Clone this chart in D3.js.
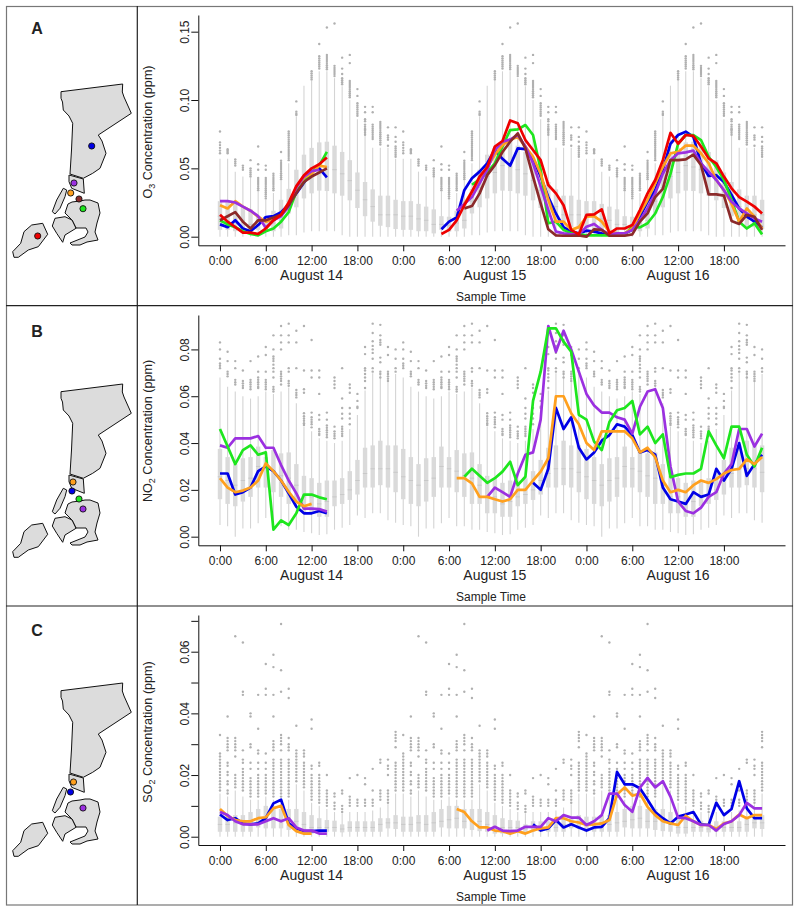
<!DOCTYPE html>
<html><head><meta charset="utf-8">
<script src="https://cdn.jsdelivr.net/npm/d3@7/dist/d3.min.js"></script>
<style>html,body{margin:0;background:#fff}svg{display:block}text{font-family:"Liberation Sans",Arial,sans-serif;fill:#222}</style>
</head><body><div id="c"></div>
<script>
// ---------- Hourly box statistics (one entry per hour of day, repeated each of the 3 days)
const o3Lo=[0,0,0,0,0,0,0,0,0,.001,.001,.003,.004,.004,.004,.004,.001,0,0,0,0,0,0,0];
const o3Q1=[.005,.005,.004,.004,.0024,.005,.0037,.004,.006,.017,.0215,.028,.0317,.0337,.0334,.0317,.030,.0266,.021,.015,.011,.008,.007,.0056];
const o3Med=[.015,.015,.013,.012,.009,.009,.008,.010,.012,.026,.036,.044,.047,.052,.051,.049,.046,.041,.034,.027,.022,.016,.016,.016];
const o3Q3=[.026,.026,.024,.022,.020,.015,.0146,.019,.027,.035,.049,.06,.065,.069,.0695,.0666,.062,.056,.047,.040,.0346,.030,.030,.027];
const o3Hi=[.057,.057,.0476,.044,.043,.033,.027,.032,.041,.0537,.088,.1105,.114,.121,.121,.116,.110,.100,.086,.077,.065,.065,.065,.057];
const o3Out=[
[.077,.069,.067,.065,.063,.061],[.064,.063,.062,.061],[.0566,.055,.0535,.052],[.052,.0505,.049],
[.056,.05,.0485,.047,.0455,.044],[.066,.053,.049,.043,.0415,.040,.0385,.037,.0355,.034],[.052,.049,.043,.0415,.040,.0385,.037,.0355,.034,.0325,.031,.0295,.028],[.046,.0445,.043,.0415,.040,.0385,.037,.0355,.034],
[.062,.0556,.054,.0525,.051,.0495,.048,.0465,.045,.0435,.042],[.077,.0755,.074,.0725,.071,.0695,.068,.0665,.065,.0635,.062,.0605,.059,.0575,.056],[.099,.0915,.090,.089],[],
[.121,.1195,.118,.1165,.115],[.141,.132,.1305,.129,.1275,.126,.1245,.123],[.153,.133,.1315,.13,.1285,.127,.1255,.124,.1225],[.156,.125,.1235,.122,.1205,.119,.1175],
[.131,.123,.119,.116,.1145,.113,.1115],[.133,.127,.114,.1125,.111,.1095,.108,.1065,.105,.1035,.102],[.108,.103,.0976,.096,.0945,.093,.0915,.090,.0885],[.095,.091,.086,.0845,.082,.0805,.079,.0775,.076,.0745,.0785],
[.095,.091,.082,.0805,.079,.0775,.076,.0745,.073,.0715],[.084,.0825,.081,.0795,.078,.0765,.075,.0735,.072,.0705,.069,.0675],[.080,.074,.0725,.071,.0665],[.080,.073,.0695,.066,.0645,.063,.0615,.060,.0585]];

const no2Lo=[.005,.0045,0,.0035,.0035,.0057,.008,.0045,.0045,.003,.003,.002,.0015,.0007,.001,.003,.0038,.005,.009,.008,.01,.01,.007,.006];
const no2Q1=[.016,.014,.013,.015,.017,.021,.021,.019,.017,.014,.014,.010,.010,.0085,.0085,.013,.014,.0157,.018,.021,.021,.022,.021,.019];
const no2Med=[.0256,.024,.022,.024,.025,.03,.029,.028,.026,.025,.022,.017,.017,.014,.015,.017,.018,.02,.024,.027,.029,.029,.029,.0275];
const no2Q3=[.0375,.034,.031,.0335,.034,.0385,.034,.037,.0356,.036,.031,.026,.025,.023,.024,.024,.025,.028,.0328,.038,.039,.041,.039,.039];
const no2Hi=[.068,.064,.062,.060,.059,.06,.062,.061,.062,.0637,.057,.047,.045,.042,.041,.04,.041,.046,.052,.0624,.0698,.07,.066,.0695];
const no2Out=[
[.083,.080,.076,.074,.073,.072],[.079,.075,.0705,.0695,.0685],[.075,.072,.067,.066,.065],[.071,.0665,.0655,.0645,.0635],
[.075,.067,.066,.065,.064,.063],[.077,.0705,.068,.067,.066,.065,.064,.0635],[.081,.0776,.0705,.067,.066,.065,.064,.063],[.086,.080,.077,.076,.075,.0735,.072,.0705,.068,.064,.063,.062],
[.090,.086,.083,.080,.0705,.0695,.0685,.0675,.0665,.065],[.091,.086,.083,.072,.0705,.0665,.0655,.0645],[.088,.083,.072,.0627,.0615,.0605,.0595],[.090,.071,.063,.0615,.0527,.0515,.0505,.0495,.0485,.0477],
[.084,.071,.068,.053,.051,.050,.049,.048,.0467],[.071,.068,.061,.052,.050,.046,.045,.044,.0434],[.053,.050,.0475,.0465,.0455,.0445,.0435,.0425],[.068,.0665,.065,.0635,.047,.045,.044,.043,.042],
[.072,.059,.055,.0525,.0505,.047,.046,.045,.044,.043],[.065,.0635,.0615,.055,.0525,.0505,.048],[.061,.058,.0555,.055],[.081,.078,.072,.071,.0695,.068,.0665,.0635],
[.091,.087,.0835,.0815,.080,.0785,.076,.072,.0705],[.0905,.086,.084,.083,.082,.0765,.0745,.0705,.0695,.068],[.081,.0776,.0705,.0695,.0685,.0675,.0665],[.080,.076,.072,.0705]];

const so2Lo=[0,0,0,0,0,0,0,0,0,0,0,0,0,0,0,0,0,0,0,0,0,0,0,0];
const so2Q1=[.0016,.0016,.0016,.0016,.0016,.003,.0027,.0027,.0027,.0022,.0018,.0016,.001,.001,.0016,.0016,.0014,.0016,.0016,.0016,.0016,.0016,.0027,.0025];
const so2Med=[.004,.004,.0045,.004,.0045,.005,.0055,.006,.005,.005,.005,.004,.003,.003,.003,.003,.0025,.003,.003,.003,.003,.004,.0045,.0045];
const so2Q3=[.0065,.0065,.007,.007,.008,.009,.010,.010,.009,.009,.009,.008,.007,.006,.0054,.0052,.004,.005,.005,.005,.005,.006,.006,.007];
const so2Hi=[.014,.013,.015,.013,.012,.012,.013,.012,.012,.012,.017,.015,.011,.010,.009,.008,.0075,.008,.008,.008,.0085,.0095,.0105,.014];
const so2Out=[
[.033,.027,.026,.025,.024,.023,.022,.021,.020,.019,.018,.017,.016,.015],[.039,.032,.031,.030,.029,.028,.024,.023,.021,.020,.018,.017,.015,.014],[.065,.032,.031,.030,.029,.028,.026,.020,.019,.018,.017,.016],[.063,.047,.046,.028,.025,.024,.022,.021,.020,.019,.018,.017,.016,.015],
[.040,.039,.030,.029,.024,.022,.019,.018,.017,.016,.015,.014,.013],[.046,.035,.028,.027,.024,.022,.020,.019,.018,.017,.016,.015,.014,.013],[.056,.048,.046,.027,.024,.022,.020,.019,.018,.017,.016,.015,.014],[.059,.055,.046,.039,.031,.030,.029,.028,.025,.024,.023,.022,.021,.020,.019,.018,.017,.016,.015,.014,.013],
[.069,.054,.047,.033,.032,.031,.030,.028,.025,.024,.023,.022,.021,.020,.019,.018,.017,.016,.015,.014,.013],[.048,.045,.032,.030,.029,.028,.025,.024,.023,.022,.021,.020,.019,.018,.017,.016,.015,.014,.013],[.036,.028,.027,.026,.025,.024,.023,.022,.021,.020,.019,.018],[.028,.027,.026,.024,.023,.022,.021,.020,.019,.018,.017,.016],
[.038,.035,.023,.022,.020,.019,.018,.017,.016,.015,.014,.013,.012],[.024,.023,.020,.019,.018,.017,.016,.015,.014,.013,.012,.011],[.020,.015,.014,.013,.012,.011,.010],[.014,.013,.011,.010,.009],
[.015,.014,.010,.009,.008],[.019,.013,.012,.011,.010],[.020,.012,.011,.010],[.019,.017,.012,.011,.010],
[.022,.015,.012,.011,.010],[.025,.024,.015,.014,.013,.012],[.025,.023,.022,.020,.015,.014,.013,.012,.011],[.034,.033,.032,.031,.029,.024,.023,.022,.021,.020,.019,.018,.017,.016,.015]];

// ---------- Site series. *A runs from hour 0, *B ends at hour 71 (hours count from 0:00 August 14)
const o3BlueA=[.009,.007,.012,.006,.004,.0085,.0144,.015,.018,.0235,.0317,.0395,.0475,.05,.0434];
const o3BlueB=[.0054,.011,.014,.034,.0427,.0476,.0537,.0634,.057,.052,.0646,.064,.057,.044,.029,.017,.007,.0037,.0024,.0044,.0037,.0024,.0017,.0024,.0024,.005,.0146,.0256,.034,.049,.068,.0744,.0768,.073,.0537,.0444,.045,.040,.0305,.0207,.0146,.011,.0068];
const o3GreenA=[.012,.009,.007,.004,.002,.001,.004,.006,.011,.018,.033,.040,.047,.052,.062];
const o3GreenB=[.038,.042,.047,.0537,.066,.078,.0785,.0817,.0744,.049,.0098,.011,.005,.0024,.002,.001,.001,.001,.001,.001,.0017,.0073,.0068,.0098,.017,.029,.046,.068,.0744,.0744,.0707,.0585,.051,.0415,.0268,.011,.006,.0098,.0017];
const o3OrangeA=[.023,.0207,.026,.022,.019,.0146,.011,.012,.016,.024,.036,.043,.046,.052,.051];
const o3OrangeB=[.024,.033,.041,.051,.06,.067,.071,.073,.066,.0585,.046,.027,.011,.011,.005,.007,.0146,.015,.011,.0037,.0024,.0024,.006,.017,.027,.039,.051,.061,.062,.0666,.0666,.061,.0537,.0415,.034,.024,.011,.0207,.0146,.006];
const o3PurpleA=[.026,.026,.025,.022,.019,.015,.0066,.012,.015,.022,.036,.044,.048,.049];
const o3PurpleB=[.019,.024,.029,.039,.049,.0634,.0695,.071,.0744,.066,.0537,.0366,.0195,.0037,.0024,.0017,.0017,.0073,.0093,.005,.0017,.0024,.0024,.005,.012,.0207,.0317,.046,.056,.061,.0617,.063,.0537,.0476,.0415,.034,.0256,.0207,.017,.0134,.011];
const o3BrownA=[.012,.015,.018,.011,.006,.012,.012,.014,.016,.023,.032,.040,.044,.047,.050];
const o3BrownB=[.0207,.0224,.0317,.045,.0524,.062,.0695,.0756,.0646,.044,.0244,.0054,.001,.0007,.0007,.001,0,.0054,.005,.0007,.0007,.0007,.0017,.011,.017,.029,.035,.056,.056,.0566,.06,.0524,.031,.031,.03,.0115,.0093,.0159,.0146,.005];
const o3RedA=[.016,.011,.007,.003,.003,.002,.006,.012,.016,.025,.037,.045,.050,.053,.058];
const o3RedB=[.002,.005,.012,.023,.033,.044,.051,.066,.07,.085,.083,.0707,.0634,.056,.0378,.0317,.023,.005,.0017,.0159,.0163,.02,.0024,.006,.006,.0085,.0195,.0317,.0415,.056,.076,.068,.0744,.0737,.066,.0573,.0537,.044,.0354,.029,.0256,.022,.017];

const no2BlueA=[.027,.027,.018,.019,.021,.028,.030,.028,.024,.0185,.0128,.01,.01,.011,.01];
const no2BlueB=[.023,.02,.029,.055,.046,.051,.038,.033,.036,.041,.0434,.048,.047,.0434,.036,.037,.035,.021,.016,.015,.014,.019,.017,.018,.029,.024,.029,.04,.026,.031,.035];
const no2GreenA=[.046,.0385,.031,.037,.039,.035,.036,.003,.007,.005,.01,.018,.018,.0168,.016];
const no2GreenB=[.0256,.029,.026,.023,.025,.0278,.032,.022,.0256,.058,.0705,.089,.089,.0833,.079,.052,.05,.0406,.037,.049,.054,.055,.058,.0437,.047,.040,.0437,.0254,.0264,.027,.027,.029,.045,.039,.0335,.047,.047,.035,.03,.038];
const no2OrangeA=[.025,.021,.019,.0197,.021,.024,.0313,.028,.024,.0192,.015,.013,.014];
const no2OrangeB=[.025,.025,.0228,.017,.017,.016,.015,.016,.02,.02,.024,.0278,.0335,.06,.06,.0527,.048,.04,.037,.045,.045,.045,.045,.042,.036,.038,.034,.024,.019,.02,.019,.022,.024,.023,.0246,.027,.0285,.029,.033,.031,.034];
const no2PurpleA=[.039,.038,.042,.042,.042,.043,.038,.038,.0306,.024,.0185,.012,.012,.0118,.0107];
const no2PurpleB=[.017,.021,.019,.017,.027,.035,.036,.05,.09,.079,.088,.08,.0705,.061,.056,.053,.053,.051,.05,.044,.0555,.062,.063,.055,.03,.015,.011,.01,.0124,.017,.019,.027,.031,.046,.046,.0385,.044];

const so2BlueA=[.0072,.0054,.006,.0043,.004,.0043,.006,.0108,.012,.0043,.0027,.0018,.0018,.002,.002];
const so2BlueB=[.004,.002,.0027,.0054,.003,.004,.003,.002,.003,.0032,.006,.021,.017,.017,.0157,.012,.008,.006,.0043,.0065,.0072,.008,.004,.0038,.011,.007,.009,.018,.0092,.006,.006];
const so2OrangeA=[.009,.0067,.0054,.005,.005,.006,.0063,.0092,.01,.0038,.0018,.001,.001];
const so2OrangeB=[.009,.008,.005,.003,.003,.002,.0018,.001,.0018,.001,.002,.0027,.003,.006,.006,.005,.0046,.0038,.004,.0043,.0054,.0137,.016,.0133,.014,.0097,.007,.005,.0043,.0038,.0068,.005,.0038,.0038,.0025,.0043,.005,.0072,.006,.007,.007];
const so2PurpleA=[.008,.007,.005,.004,.004,.004,.005,.006,.005,.006,.003,.002,.002,.001,.001];
const so2PurpleB=[.002,.0032,.002,.0018,.002,.0032,.0032,.0032,.006,.005,.007,.0062,.0062,.0038,.005,.007,.014,.014,.0103,.0081,.0159,.0191,.016,.018,.013,.0062,.006,.005,.0038,.0038,.002,.0041,.005,.007,.011,.0092,.0092];

// ---------- Axis labels
const dayLabels=["August 14","August 15","August 16"];
const dayHours=[12,36,60];
const xTickHours=[0,6,12,18,24,30,36,42,48,54,60,66];
const o3Ticks=[0,.05,.10,.15], o3Labels=["0.00","0.05","0.10","0.15"];
const no2Ticks=[0,.02,.04,.06,.08], no2Labels=["0.00","0.02","0.04","0.06","0.08"];
const so2Ticks=[0,.01,.02,.03,.04,.05,.06,.07], so2Labels=["0.00","","0.02","","0.04","","0.06",""];

// ---------- Colours
const BLUE="#0000e6",GREEN="#1ee61e",ORANGE="#ffa01e",PURPLE="#9b30e0",BROWN="#8b2a2a",RED="#ee0000";

// ---------- Map outlines (px inside map panel)
const mapMain=[[61,91.7],[122.7,84],[122.3,92],[124,97],[131.3,113.3],[98.3,135],[102,141],[106,153.3],[100,168.3],[92.7,173.3],[83.3,178.3],[70,174],[71.5,150],[72.7,123.3],[69,116],[63.3,110],[62.5,102],[61,98.3]];
const mapQuad=[[69,175],[83.3,179],[84.3,193.3],[71.7,188.3],[69,181.7]];
const mapSliver=[[63.3,188.3],[66.7,190],[65,196.7],[60,208.3],[55,214],[52.3,211.7],[56.7,200]];
const mapEast=[[68,204],[72,202],[80,201],[85,200],[90,200],[98,203],[100,213],[97,223],[95,232],[98,240],[87,242],[80,245],[72,245],[70,243],[85,237],[88,232],[86,228],[76,228],[72,220],[65,213],[67,207]];
const mapWest=[[65,216.7],[55,218.3],[52.3,226],[56.7,233.3],[62.7,242.3],[65,235],[76,228.3],[72,220]];
const mapSouth=[[31.7,225],[42.7,223.3],[47.7,234.3],[38.3,246.7],[28.3,250],[18.3,257.3],[14,257.3],[12.7,251.7],[20.7,243.3],[24,231.7]];

const W=800,H=913;
const svg=d3.select("#c").append("svg").attr("width",W).attr("height",H);
const x=d3.scaleLinear().domain([-2.84,74]).range([198.3,785]);
const boxW=4.4;
const lineGen=d3.line();
const mapLine=d3.line().curve(d3.curveLinearClosed);

function panel(cfg){
  const y=d3.scaleLinear().domain(cfg.yDomain).range([cfg.axisY,cfg.axisTop]);
  const g=svg.append("g");
  const hours=d3.range(72);
  const b=g.append("g").selectAll("g").data(hours).join("g");
  const i=h=>h%24, px=h=>x(h);
  b.append("line").attr("x1",px).attr("x2",px).attr("y1",h=>y(cfg.lo[i(h)])).attr("y2",h=>y(cfg.hi[i(h)])).attr("stroke","#d4d4d4").attr("stroke-width",1.1);
  b.append("rect").attr("x",h=>px(h)-boxW/2).attr("width",boxW).attr("y",h=>y(cfg.q3[i(h)])).attr("height",h=>y(cfg.q1[i(h)])-y(cfg.q3[i(h)])).attr("fill","#dadada");
  b.append("line").attr("x1",h=>px(h)-boxW/2).attr("x2",h=>px(h)+boxW/2).attr("y1",h=>y(cfg.med[i(h)])).attr("y2",h=>y(cfg.med[i(h)])).attr("stroke","#c8c8c8").attr("stroke-width",1);
  b.selectAll("circle").data(h=>cfg.out[i(h)].map(v=>[h,v])).join("circle").attr("cx",d=>x(d[0])).attr("cy",d=>y(d[1])).attr("r",1.2).attr("fill","#b0b0b0");
  cfg.series.forEach(s=>{
    [[s.a,0],[s.b,72-s.b.length]].forEach(([vals,start])=>{
      g.append("path").attr("fill","none").attr("stroke",s.color).attr("stroke-width",2.7).attr("stroke-linejoin","round")
       .attr("d",lineGen(vals.map((v,k)=>[x(start+k),y(v)])));
    });
  });
  const ya=d3.axisLeft(y).tickValues(cfg.ticks).tickSizeInner(7).tickSizeOuter(0).tickFormat((d,k)=>cfg.labels[k]);
  const yg=g.append("g").attr("transform","translate(198.3,0)").call(ya);
  yg.selectAll("text").attr("transform","translate(-9,0) rotate(-90)").attr("x",0).attr("y",0).attr("dy",0).attr("text-anchor","middle").attr("font-size",12).style("font-family",'"Liberation Sans"');
  const xa=d3.axisBottom(x).tickValues(xTickHours).tickSizeInner(6).tickSizeOuter(0).tickFormat(h=>(h%24)+":00");
  const xg=g.append("g").attr("transform",`translate(0,${cfg.axisY})`).call(xa);
  xg.selectAll("text").attr("y",0).attr("dy",0).attr("transform","translate(0,20)").attr("font-size",12).style("font-family",'"Liberation Sans"');
  g.selectAll(".domain,.tick line").attr("stroke","#111").attr("stroke-width",1);
  g.selectAll(".tick text").attr("fill","#222");
  g.append("g").selectAll("text").data(dayLabels).join("text").attr("x",(d,k)=>x(dayHours[k])).attr("y",cfg.axisY+34.5).attr("text-anchor","middle").attr("font-size",14).text(d=>d);
  g.append("text").attr("x",491).attr("y",cfg.axisY+56).attr("text-anchor","middle").attr("font-size",12).text("Sample Time");
  const yl=g.append("text").attr("transform",`translate(152,${(cfg.labelY)}) rotate(-90)`).attr("text-anchor","middle").attr("font-size",12.6);
  yl.append("tspan").text(cfg.chem[0]);
  yl.append("tspan").attr("font-size",9).attr("dy",3).text(cfg.chem[1]);
  yl.append("tspan").attr("dy",-3).text(" Concentration (ppm)");
  const m=g.append("g").attr("transform",`translate(0,${cfg.mapDy})`);
  m.selectAll("path").data([mapMain,mapQuad,mapSliver,mapEast,mapWest,mapSouth]).join("path").attr("d",mapLine).attr("fill","#dcdcdc").attr("stroke","#111").attr("stroke-width",1).attr("stroke-linejoin","round");
  m.selectAll("circle").data(cfg.sites).join("circle").attr("cx",d=>d[0]).attr("cy",d=>d[1]).attr("r",3.1).attr("fill",d=>d[2]).attr("stroke","#111").attr("stroke-width",.9);
  g.append("text").attr("x",37).attr("y",cfg.letterY).attr("text-anchor","middle").attr("font-size",16).attr("font-weight","bold").attr("fill","#000").text(cfg.letter);
}

panel({letter:"A",letterY:34,chem:["O","3"],labelY:132,axisY:245.3,axisTop:15,yDomain:[-.0063,.1622],mapDy:0,
  ticks:o3Ticks,labels:o3Labels,lo:o3Lo,q1:o3Q1,med:o3Med,q3:o3Q3,hi:o3Hi,out:o3Out,
  series:[{color:BLUE,a:o3BlueA,b:o3BlueB},{color:GREEN,a:o3GreenA,b:o3GreenB},{color:ORANGE,a:o3OrangeA,b:o3OrangeB},{color:PURPLE,a:o3PurpleA,b:o3PurpleB},{color:BROWN,a:o3BrownA,b:o3BrownB},{color:RED,a:o3RedA,b:o3RedB}],
  sites:[[91.7,146,BLUE],[74,183,PURPLE],[70.7,193,ORANGE],[79,199,BROWN],[83,208.7,GREEN],[37.7,236,RED]]});
panel({letter:"B",letterY:337,chem:["NO","2"],labelY:431,axisY:545.3,axisTop:315,yDomain:[-.00368,.0947],mapDy:300,
  ticks:no2Ticks,labels:no2Labels,lo:no2Lo,q1:no2Q1,med:no2Med,q3:no2Q3,hi:no2Hi,out:no2Out,
  series:[{color:BLUE,a:no2BlueA,b:no2BlueB},{color:PURPLE,a:no2PurpleA,b:no2PurpleB},{color:GREEN,a:no2GreenA,b:no2GreenB},{color:ORANGE,a:no2OrangeA,b:no2OrangeB}],
  sites:[[72,191,BLUE],[73,182,ORANGE],[79,199,GREEN],[83,209,PURPLE]]});
panel({letter:"C",letterY:636,chem:["SO","2"],labelY:732,axisY:845,axisTop:615,yDomain:[-.00269,.0719],mapDy:599,
  ticks:so2Ticks,labels:so2Labels,lo:so2Lo,q1:so2Q1,med:so2Med,q3:so2Q3,hi:so2Hi,out:so2Out,
  series:[{color:BLUE,a:so2BlueA,b:so2BlueB},{color:ORANGE,a:so2OrangeA,b:so2OrangeB},{color:PURPLE,a:so2PurpleA,b:so2PurpleB}],
  sites:[[70.5,193,BLUE],[73.5,183,ORANGE],[83,209,PURPLE]]});

svg.append("rect").attr("x",6.5).attr("y",6.5).attr("width",786).attr("height",898.5).attr("fill","none").attr("stroke","#777").attr("stroke-width",1.2);
svg.append("line").attr("x1",137.3).attr("x2",137.3).attr("y1",6).attr("y2",905).attr("stroke","#222").attr("stroke-width",1.2);
svg.append("line").attr("x1",6).attr("x2",793).attr("y1",305.7).attr("y2",305.7).attr("stroke","#222").attr("stroke-width",1.2);
svg.append("line").attr("x1",6).attr("x2",793).attr("y1",606).attr("y2",606).attr("stroke","#222").attr("stroke-width",1.2);
</script></body></html>
